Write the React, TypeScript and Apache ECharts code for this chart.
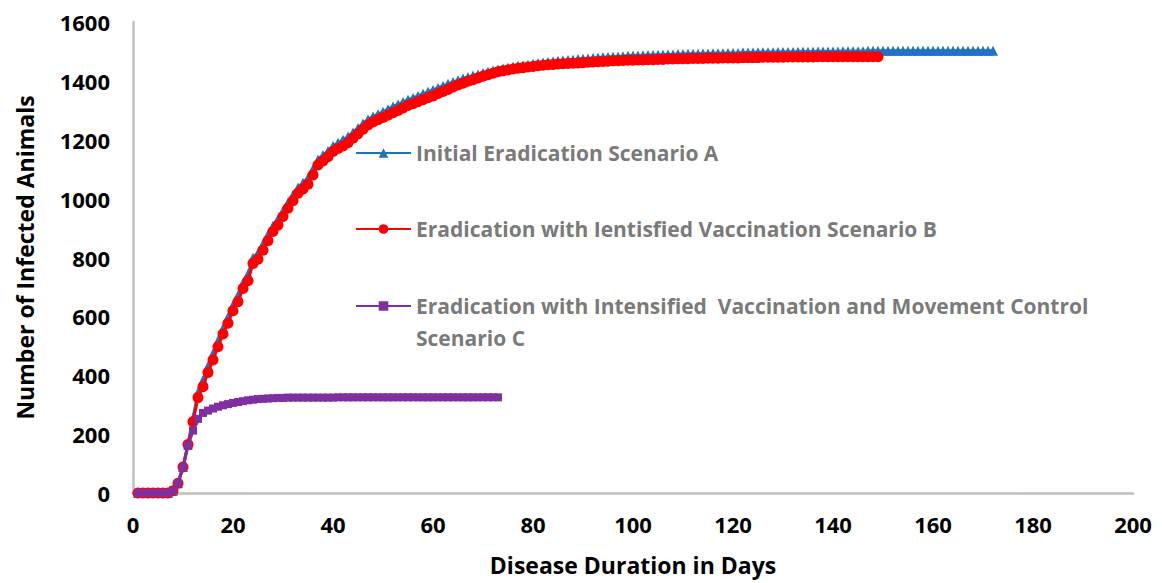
import React, { useEffect, useRef } from 'react';
import * as echarts from 'echarts';

const seriesNames = [
  'Initial Eradication Scenario A',
  'Eradication with Ientisfied Vaccination Scenario B',
  'Eradication with Intensified  Vaccination and Movement Control Scenario C',
];

// Values per day, starting at day 1
const scenarioA = [
  0, 0, 0, 0, 0, 0, 0, 8, 33, 88,
  165, 255, 342, 384, 431, 474, 518, 560, 598, 639,
  672, 714, 744, 799, 815, 847, 878, 908, 931, 959,
  987, 1013, 1038, 1054, 1071, 1101, 1133, 1148, 1162, 1179,
  1190, 1200, 1211, 1225, 1240, 1255, 1269, 1279, 1287, 1295,
  1304, 1313, 1320, 1328, 1336, 1342, 1349, 1356, 1363, 1369,
  1376, 1383, 1390, 1396, 1402, 1408, 1413, 1418, 1422, 1427,
  1431, 1435, 1439, 1442, 1445, 1448, 1451, 1453, 1455, 1458,
  1460, 1462, 1464, 1466, 1468, 1469, 1471, 1472, 1474, 1475,
  1476, 1478, 1479, 1480, 1481, 1482, 1483, 1484, 1485, 1486,
  1486, 1487, 1488, 1488, 1489, 1489, 1490, 1490, 1491, 1491,
  1492, 1492, 1492, 1493, 1493, 1494, 1494, 1494, 1495, 1495,
  1495, 1496, 1496, 1496, 1497, 1497, 1497, 1497, 1498, 1498,
  1498, 1498, 1499, 1499, 1499, 1499, 1500, 1500, 1500, 1500,
  1500, 1501, 1501, 1501, 1501, 1501, 1502, 1502, 1502, 1502,
  1502, 1502, 1502, 1502, 1502, 1502, 1502, 1502, 1502, 1502,
  1502, 1502, 1502, 1502, 1502, 1502, 1502, 1502, 1502, 1502,
  1502, 1502,
];

const scenarioB = [
  0, 0, 0, 0, 0, 0, 0, 8, 33, 88,
  165, 242, 324, 361, 409, 452, 497, 540, 577, 619,
  650, 695, 721, 780, 794, 825, 857, 888, 910, 939,
  967, 993, 1018, 1033, 1049, 1080, 1114, 1128, 1142, 1160,
  1170, 1179, 1190, 1205, 1220, 1236, 1250, 1260, 1268, 1276,
  1283, 1292, 1299, 1308, 1316, 1322, 1329, 1336, 1343, 1349,
  1357, 1364, 1371, 1379, 1386, 1392, 1399, 1404, 1410, 1416,
  1421, 1426, 1431, 1434, 1437, 1440, 1443, 1445, 1447, 1449,
  1451, 1453, 1455, 1456, 1457, 1458, 1459, 1460, 1461, 1462,
  1463, 1464, 1465, 1466, 1467, 1468, 1468, 1469, 1470, 1470,
  1471, 1471, 1472, 1472, 1473, 1473, 1474, 1474, 1475, 1475,
  1475, 1476, 1476, 1476, 1477, 1477, 1477, 1478, 1478, 1478,
  1478, 1479, 1479, 1479, 1479, 1480, 1480, 1480, 1480, 1480,
  1481, 1481, 1481, 1481, 1481, 1481, 1482, 1482, 1482, 1482,
  1482, 1482, 1482, 1482, 1482, 1482, 1482, 1482, 1482,
];

const scenarioC = [
  0, 0, 0, 0, 0, 0, 0, 8, 33, 88,
  160, 212, 252, 272, 280, 287, 293, 298, 302, 306,
  309, 312, 315, 317, 319, 320, 321, 322, 323, 323,
  324, 324, 324, 324, 324, 324, 324, 324, 324, 324,
  325, 325, 325, 325, 325, 325, 325, 325, 325, 325,
  325, 325, 325, 325, 325, 325, 325, 325, 325, 325,
  325, 325, 325, 325, 325, 325, 325, 325, 325, 325,
  325, 325, 325,
];

const colors = ['#1f72c6', '#ff0000', '#7f2f9f'];
const symbols = ['triangle', 'circle', 'rect'];
const symbolSizes = [10, 11, 8];

const toPairs = (arr: number[]) => arr.map((v, i) => [i + 1, v]);

export default function App() {
  const ref = useRef<HTMLDivElement>(null);
  useEffect(() => {
    const chart = echarts.init(ref.current as HTMLDivElement, null, { renderer: 'svg' });
    const font = 'Open Sans';
    const legendText = {
      color: '#7a7a7a',
      fontWeight: 'bold',
      fontSize: 21,
      fontFamily: font,
      lineHeight: 32,
    };
    const legendBase = {
      orient: 'vertical',
      left: 355,
      padding: 0,
      itemWidth: 55,
      itemHeight: 12,
      selectedMode: false,
    };
    const datasets = [scenarioA, scenarioB, scenarioC];
    chart.setOption({
      animation: false,
      backgroundColor: '#ffffff',
      grid: { left: 133, right: 29, top: 22, bottom: 90 },
      xAxis: {
        type: 'value',
        min: 0,
        max: 200,
        interval: 20,
        name: 'Disease Duration in Days',
        nameLocation: 'middle',
        nameGap: 60,
        nameTextStyle: { color: '#000', fontWeight: 'bold', fontSize: 23, fontFamily: font },
        axisLine: { lineStyle: { color: '#bfbfbf', width: 2.5 } },
        axisTick: { show: false },
        splitLine: { show: false },
        axisLabel: { margin: 20, color: '#000', fontWeight: 'bold', fontSize: 22, fontFamily: font },
      },
      yAxis: {
        type: 'value',
        min: 0,
        max: 1600,
        interval: 200,
        name: 'Number of Infected Animals',
        nameLocation: 'middle',
        nameGap: 97,
        nameTextStyle: { color: '#000', fontWeight: 'bold', fontSize: 23, fontFamily: font },
        axisLine: { show: true, lineStyle: { color: '#bfbfbf', width: 2.5 } },
        axisTick: { show: false },
        splitLine: { show: false },
        axisLabel: {
          margin: 23,
          color: '#000',
          fontWeight: 'bold',
          fontSize: 22,
          fontFamily: font,
          formatter: (v: number) => String(v),
        },
      },
      legend: [
        { ...legendBase, top: 137, data: [seriesNames[0]], textStyle: legendText },
        { ...legendBase, top: 213, data: [seriesNames[1]], textStyle: legendText },
        {
          ...legendBase,
          top: 258,
          data: [seriesNames[2]],
          formatter: () => '\nEradication with Intensified  Vaccination and Movement Control\nScenario C',
          textStyle: legendText,
        },
      ],
      series: datasets.map((d, i) => ({
        name: seriesNames[i],
        type: 'line',
        data: toPairs(d),
        symbol: symbols[i],
        symbolSize: symbolSizes[i],
        showSymbol: true,
        lineStyle: { color: colors[i], width: 3 },
        itemStyle: { color: colors[i] },
        z: 2 + i,
      })),
    });
    return () => chart.dispose();
  }, []);
  return (
    <div
      ref={ref}
      style={{ position: 'fixed', left: 0, top: 0, width: 1162, height: 583, background: '#fff' }}
    />
  );
}
